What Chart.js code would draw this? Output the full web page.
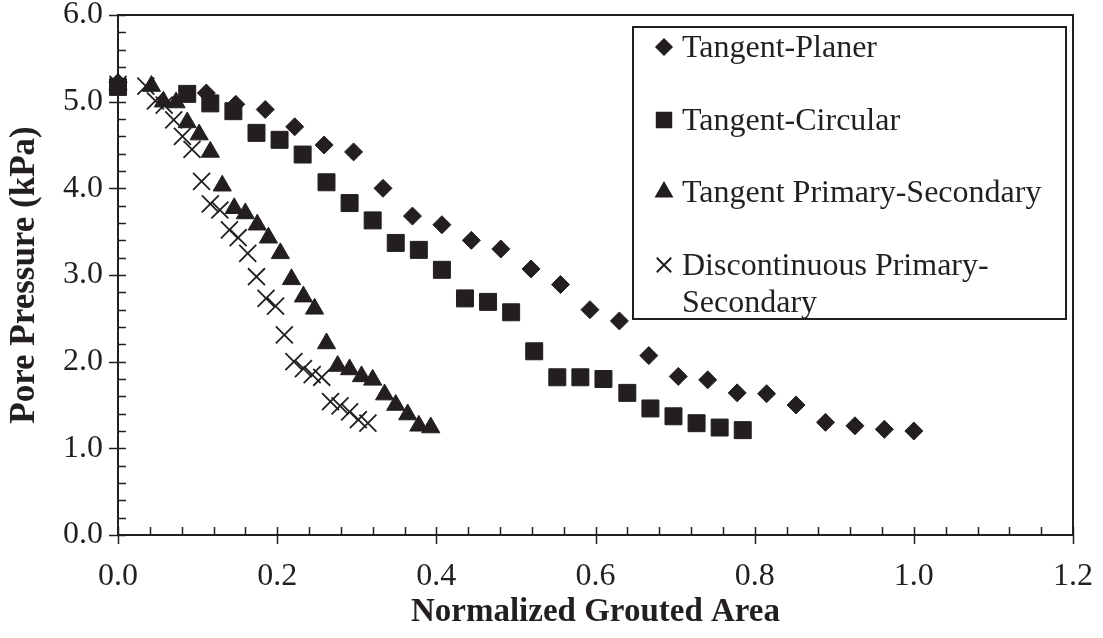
<!DOCTYPE html>
<html>
<head>
<meta charset="utf-8">
<title>Pore Pressure vs Normalized Grouted Area</title>
<script src="https://cdn.jsdelivr.net/npm/chart.js@4.4.1/dist/chart.umd.min.js"></script>
<style>
  html, body { margin: 0; padding: 0; background: #fff; }
  #wrap { width: 1103px; height: 638px; }
</style>
</head>
<body>
<div id="wrap"><canvas id="chart" width="1103" height="638"></canvas></div>
<script>
/* ── data ── */
const planerX   = [0, 0.111, 0.148, 0.185, 0.222, 0.259, 0.296, 0.333, 0.370, 0.407, 0.444, 0.481, 0.519,
                   0.556, 0.593, 0.630, 0.667, 0.704, 0.741, 0.778, 0.815, 0.852, 0.889, 0.926, 0.963, 1.0];
const planerY   = [5.22, 5.10, 4.97, 4.91, 4.71, 4.50, 4.42, 4.00, 3.68, 3.58, 3.40, 3.30, 3.07,
                   2.89, 2.60, 2.47, 2.07, 1.83, 1.79, 1.64, 1.63, 1.50, 1.30, 1.26, 1.22, 1.20];

const circularX = [0, 0.087, 0.116, 0.145, 0.174, 0.203, 0.232, 0.262, 0.291, 0.320, 0.349, 0.378, 0.407,
                   0.436, 0.465, 0.494, 0.523, 0.552, 0.581, 0.610, 0.640, 0.669, 0.698, 0.727, 0.756, 0.785];
const circularY = [5.17, 5.09, 4.98, 4.89, 4.64, 4.56, 4.39, 4.07, 3.83, 3.63, 3.37, 3.29, 3.06,
                   2.73, 2.69, 2.57, 2.12, 1.82, 1.82, 1.80, 1.64, 1.46, 1.37, 1.29, 1.24, 1.21];

const primSecX  = [0, 0.042, 0.057, 0.073, 0.087, 0.102, 0.116, 0.131, 0.146, 0.160, 0.175, 0.189, 0.204,
                   0.218, 0.233, 0.247, 0.262, 0.276, 0.291, 0.306, 0.320, 0.335, 0.349, 0.364, 0.378, 0.393];
const primSecY  = [5.20, 5.18, 5.00, 4.99, 4.76, 4.62, 4.42, 4.03, 3.77, 3.71, 3.58, 3.43, 3.25,
                   2.95, 2.75, 2.61, 2.21, 1.95, 1.91, 1.83, 1.79, 1.62, 1.50, 1.39, 1.26, 1.24];

const discX     = [0, 0.035, 0.047, 0.058, 0.070, 0.081, 0.093, 0.105, 0.116, 0.128, 0.140, 0.151, 0.163,
                   0.174, 0.186, 0.198, 0.209, 0.221, 0.233, 0.244, 0.256, 0.267, 0.279, 0.291, 0.302, 0.314];
const discY     = [5.20, 5.18, 5.01, 4.96, 4.79, 4.60, 4.45, 4.08, 3.82, 3.75, 3.52, 3.43, 3.25,
                   2.98, 2.73, 2.64, 2.31, 2.00, 1.92, 1.85, 1.82, 1.54, 1.49, 1.42, 1.33, 1.29];

const seriesNames = ['Tangent-Planer', 'Tangent-Circular', 'Tangent Primary-Secondary', 'Discontinuous Primary-Secondary'];
const legendLines = [['Tangent-Planer'], ['Tangent-Circular'], ['Tangent Primary-Secondary'], ['Discontinuous Primary-', 'Secondary']];
const xTitle = 'Normalized Grouted Area';
const yTitle = 'Pore Pressure (kPa)';

const INK   = '#231f20';
const SERIF = "'Liberation Serif', 'Times New Roman', serif";

const pts = (xs, ys) => xs.map((x, i) => ({ x, y: ys[i] }));

function marker(style, radius, order, bw) {
    return {
        pointStyle: style, pointRadius: radius, pointHoverRadius: radius,
        pointBackgroundColor: INK, pointBorderColor: INK, pointBorderWidth: bw,
        showLine: false, clip: false, order
    };
}

// fixed plot box: no automatic room for the end tick labels
function pinBox(size) {
    return s => {
        if (s.isHorizontal()) s.height = size; else s.width = size;
        s.paddingLeft = s.paddingRight = s.paddingTop = s.paddingBottom = 0;
    };
}

/* axes: box frame, crossing major ticks, inside minor ticks */
const axisFrame = {
    id: 'axisFrame',
    beforeDatasetsDraw(chart) {
        const { ctx, chartArea: a, scales: { x, y } } = chart;
        ctx.save();
        ctx.strokeStyle = INK;
        ctx.lineWidth = 2;
        ctx.strokeRect(a.left, a.top, a.right - a.left, a.bottom - a.top);
        ctx.lineWidth = 1.5;
        for (let i = 0; i <= 30; i++) {
            const py = Math.round(y.getPixelForValue(i * 0.2)) + 0.5;
            const major = i % 5 === 0;
            ctx.beginPath();
            ctx.moveTo(a.left - (major ? 9 : 0), py);
            ctx.lineTo(a.left + 8, py);
            ctx.stroke();
        }
        for (let i = 0; i <= 30; i++) {
            const px = Math.round(x.getPixelForValue(i * 0.04)) + 0.5;
            const major = i % 5 === 0;
            ctx.beginPath();
            ctx.moveTo(px, a.bottom + (major ? 9 : 0));
            ctx.lineTo(px, a.bottom - 8);
            ctx.stroke();
        }
        ctx.restore();
    }
};

/* boxed legend inside the plot, with the wrapped last entry */
const boxLegend = {
    id: 'boxLegend',
    afterDraw(chart) {
        const { ctx } = chart;
        const box = { left: 633, top: 27, right: 1066, bottom: 319 };
        const rows = [47, 120, 192, 265];
        ctx.save();
        ctx.fillStyle = '#fff';
        ctx.fillRect(box.left, box.top, box.right - box.left, box.bottom - box.top);
        ctx.strokeStyle = INK;
        ctx.lineWidth = 2;
        ctx.strokeRect(box.left, box.top, box.right - box.left, box.bottom - box.top);
        ctx.font = '32px ' + SERIF;
        ctx.textBaseline = 'middle';
        chart.data.datasets.forEach((ds, i) => {
            const opts = {
                pointStyle: ds.pointStyle, radius: ds.pointRadius * 0.85,
                rotation: 0, borderWidth: ds.pointBorderWidth
            };
            ctx.fillStyle = INK;
            ctx.strokeStyle = INK;
            Chart.helpers.drawPoint(ctx, opts, 664, rows[i]);
            legendLines[i].forEach((line, k) => {
                ctx.fillText(line, 682, rows[i] + 2 + k * 37);
            });
        });
        ctx.restore();
    }
};

new Chart(document.getElementById('chart'), {
    type: 'scatter',
    data: {
        datasets: [
            { label: seriesNames[0], data: pts(planerX, planerY),     ...marker('rectRot', 9, 4, 1) },
            { label: seriesNames[1], data: pts(circularX, circularY), ...marker('rect', 12, 3, 1) },
            { label: seriesNames[2], data: pts(primSecX, primSecY),   ...marker('triangle', 10.5, 2, 1) },
            { label: seriesNames[3], data: pts(discX, discY),         ...marker('crossRot', 12, 1, 1.8) }
        ]
    },
    options: {
        responsive: false,
        animation: false,
        layout: { padding: { top: 15, right: 30, left: 0, bottom: 0 } },
        plugins: { legend: { display: false }, tooltip: { enabled: false } },
        scales: {
            x: {
                type: 'linear', min: 0, max: 1.2,
                border: { display: false },
                grid: { display: false, drawTicks: false },
                ticks: {
                    stepSize: 0.2, padding: 22, color: INK, maxRotation: 0,
                    font: { family: SERIF, size: 32 },
                    callback: v => v.toFixed(1)
                },
                title: {
                    display: true, text: xTitle, color: INK,
                    font: { family: SERIF, size: 33, weight: 'bold' },
                    padding: { top: 0, bottom: 6 }
                },
                afterFit: pinBox(103)
            },
            y: {
                type: 'linear', min: 0, max: 6,
                border: { display: false },
                grid: { display: false, drawTicks: false },
                ticks: {
                    stepSize: 1, padding: 15, color: INK,
                    font: { family: SERIF, size: 32 },
                    callback: v => v.toFixed(1)
                },
                title: {
                    display: true, text: yTitle, color: INK,
                    font: { family: SERIF, size: 35, weight: 'bold' },
                    padding: { top: 4, bottom: 0 }
                },
                afterFit: pinBox(118)
            }
        }
    },
    plugins: [axisFrame, boxLegend]
});
</script>
</body>
</html>
